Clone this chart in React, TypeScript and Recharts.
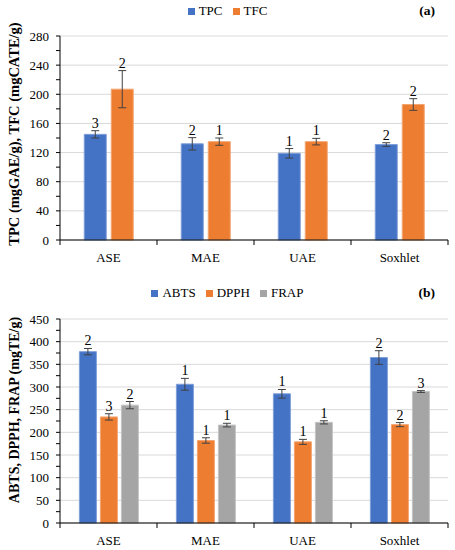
import React from 'react';
import { BarChart, Bar, XAxis, YAxis, CartesianGrid, ErrorBar, Legend, LabelList } from 'recharts';

const FONT = '"Liberation Serif", serif';

const methods = ['ASE', 'MAE', 'UAE', 'Soxhlet'];

// Panel (a)
const tpc = [145, 132, 119, 131];
const tpcErr = [5, 8.5, 6.5, 2.5];
const tpcSig = ['3', '2', '1', '2'];
const tfc = [207, 135, 135, 186];
const tfcErr = [25.5, 5, 4.5, 8];
const tfcSig = ['2', '1', '1', '2'];
const ticksA = [0, 20, 40, 60, 80, 100, 120, 140, 160, 180, 200, 220, 240, 260, 280];
const majorA = [0, 40, 80, 120, 160, 200, 240, 280];

// Panel (b)
const abts = [378, 306, 285, 365];
const abtsErr = [7, 13, 9.5, 15];
const abtsSig = ['2', '1', '1', '2'];
const dpph = [234, 182, 179, 217];
const dpphErr = [7, 6, 5.5, 4.5];
const dpphSig = ['3', '1', '1', '2'];
const frap = [260, 216, 222, 290];
const frapErr = [8, 4, 3.5, 2];
const frapSig = ['2', '1', '1', '3'];
const ticksB = [0, 25, 50, 75, 100, 125, 150, 175, 200, 225, 250, 275, 300, 325, 350, 375, 400, 425, 450];
const majorB = [0, 50, 100, 150, 200, 250, 300, 350, 400, 450];

const BLUE = '#4472C4';
const ORANGE = '#ED7D31';
const GRAY = '#A5A5A5';
const BLUE_EDGE = '#7F9FD8';
const ORANGE_EDGE = '#F3A571';
const GRAY_EDGE = '#C4C4C4';
const ERR = '#404040';

const dataA = methods.map((m, i) => ({
  name: m, tpc: tpc[i], tpcErr: tpcErr[i], tfc: tfc[i], tfcErr: tfcErr[i],
}));
const dataB = methods.map((m, i) => ({
  name: m, abts: abts[i], abtsErr: abtsErr[i], dpph: dpph[i], dpphErr: dpphErr[i], frap: frap[i], frapErr: frapErr[i],
}));

const sigLabel = (values: number[], errs: number[], sigs: string[]) => (props: any) => {
  const vb = props.viewBox || {};
  const x = Number(props.x ?? vb.x);
  const y = Number(props.y ?? vb.y);
  const width = Number(props.width ?? vb.width);
  const height = Number(props.height ?? vb.height);
  const index = props.index;
  if (index == null || isNaN(x)) return null;
  const v = values[index];
  const e = errs[index];
  const top = y - e * (height / v);
  return (
    <text x={x + width / 2} y={top - 3} textAnchor="middle" fontSize={14} fill="#000" stroke="none" fontFamily={FONT}>
      {sigs[index]}
    </text>
  );
};

const CatTick = (props: any) => {
  const { x, y, payload, index } = props;
  const half = payload && payload.offset != null ? payload.offset : 48.5;
  return (
    <g>
      <line x1={x - half} x2={x - half} y1={y} y2={y + 5} stroke="#000" strokeWidth={1} />
      {index === methods.length - 1 && (
        <line x1={x + half} x2={x + half} y1={y} y2={y + 5} stroke="#000" strokeWidth={1} />
      )}
      <text x={x} y={y + 22} textAnchor="middle" fontSize={13} fill="#000" fontFamily={FONT}>
        {payload.value}
      </text>
    </g>
  );
};

const yLabel = (text: string, dy: number, size: number) => (props: any) => {
  const vb = props.viewBox || {};
  const cx = vb.x + 19;
  const cy = vb.y + vb.height / 2 + dy;
  return (
    <text
      x={cx}
      y={cy}
      transform={`rotate(-90 ${cx} ${cy})`}
      textAnchor="middle"
      fontSize={size}
      fontWeight="bold"
      fill="#000"
      fontFamily={FONT}
    >
      {text}
    </text>
  );
};

const makeLegend = (items: { name: string; color: string }[], tag: string) => () => (
  <div style={{ position: 'relative', width: 455, height: 18, fontFamily: FONT, fontSize: 13, color: '#000' }}>
    <div style={{ display: 'flex', justifyContent: 'center', alignItems: 'center', height: 18 }}>
      {items.map((it) => (
        <span key={it.name} style={{ display: 'flex', alignItems: 'center', margin: '0 5px' }}>
          <span style={{ display: 'inline-block', width: 7, height: 7, background: it.color, marginRight: 4 }} />
          <span>{it.name}</span>
        </span>
      ))}
    </div>
    <span style={{ position: 'absolute', right: 20, top: 1, fontWeight: 'bold', fontSize: 13.5 }}>{tag}</span>
  </div>
);

const tickStyle = { fontSize: 13, fill: '#000', fontFamily: FONT };

export default function App() {
  return (
    <div style={{ position: 'absolute', left: 0, top: 0, width: 455, height: 550, background: '#fff' }}>
      <BarChart
        width={455}
        height={268}
        data={dataA}
        margin={{ top: 36, right: 7, left: 0, bottom: 0 }}
        barCategoryGap="25%"
        barGap={5}
      >
        <CartesianGrid vertical={false} horizontalValues={majorA} stroke="#d9d9d9" />
        <XAxis
          dataKey="name"
          height={28}
          tickLine={false}
          tickSize={0}
          tickMargin={0}
          axisLine={{ stroke: '#000' }}
          tick={<CatTick />}
          interval={0}
        />
        <YAxis
          width={60}
          domain={[0, 280]}
          ticks={ticksA}
          interval={0}
          tickFormatter={(v: number) => (v % 40 === 0 ? String(v) : '')}
          tick={tickStyle}
          tickSize={4}
          tickMargin={7}
          tickLine={{ stroke: '#000' }}
          axisLine={{ stroke: '#000' }}
          label={yLabel('TPC (mgGAE/g), TFC (mgCATE/g)', -4, 14.5)}
        />
        <Legend
          verticalAlign="middle"
          layout="horizontal"
          wrapperStyle={{ top: 2, left: 0, width: 455 }}
          content={makeLegend([{ name: 'TPC', color: BLUE }, { name: 'TFC', color: ORANGE }], '(a)')}
        />
        <Bar dataKey="tpc" name="TPC" fill={BLUE} stroke={BLUE_EDGE} strokeWidth={1} isAnimationActive={false}>
          <ErrorBar dataKey="tpcErr" width={4} stroke={ERR} strokeWidth={1} direction="y" isAnimationActive={false} />
          <LabelList dataKey="tpc" content={sigLabel(tpc, tpcErr, tpcSig)} />
        </Bar>
        <Bar dataKey="tfc" name="TFC" fill={ORANGE} stroke={ORANGE_EDGE} strokeWidth={1} isAnimationActive={false}>
          <ErrorBar dataKey="tfcErr" width={4} stroke={ERR} strokeWidth={1} direction="y" isAnimationActive={false} />
          <LabelList dataKey="tfc" content={sigLabel(tfc, tfcErr, tfcSig)} />
        </Bar>
      </BarChart>
      <div style={{ position: 'absolute', left: 0, top: 270 }}>
        <BarChart
          width={455}
          height={280}
          data={dataB}
          margin={{ top: 49, right: 7, left: 0, bottom: 0 }}
          barCategoryGap="20%"
          barGap={4}
        >
          <CartesianGrid vertical={false} horizontalValues={majorB} stroke="#d9d9d9" />
          <XAxis
            dataKey="name"
            height={27}
            tickLine={false}
            tickSize={0}
            tickMargin={0}
            axisLine={{ stroke: '#000' }}
            tick={<CatTick />}
            interval={0}
          />
          <YAxis
            width={60}
            domain={[0, 450]}
            ticks={ticksB}
            interval={0}
            tickFormatter={(v: number) => (v % 50 === 0 ? String(v) : '')}
            tick={tickStyle}
            tickSize={4}
            tickMargin={7}
            tickLine={{ stroke: '#000' }}
            axisLine={{ stroke: '#000' }}
            label={yLabel('ABTS, DPPH, FRAP (mgTE/g)', -11, 14)}
          />
          <Legend
            verticalAlign="middle"
            layout="horizontal"
            wrapperStyle={{ top: 14, left: 0, width: 455 }}
            content={makeLegend(
              [{ name: 'ABTS', color: BLUE }, { name: 'DPPH', color: ORANGE }, { name: 'FRAP', color: GRAY }],
              '(b)'
            )}
          />
          <Bar dataKey="abts" name="ABTS" fill={BLUE} stroke={BLUE_EDGE} strokeWidth={1} isAnimationActive={false}>
            <ErrorBar dataKey="abtsErr" width={4} stroke={ERR} strokeWidth={1} direction="y" isAnimationActive={false} />
            <LabelList dataKey="abts" content={sigLabel(abts, abtsErr, abtsSig)} />
          </Bar>
          <Bar dataKey="dpph" name="DPPH" fill={ORANGE} stroke={ORANGE_EDGE} strokeWidth={1} isAnimationActive={false}>
            <ErrorBar dataKey="dpphErr" width={4} stroke={ERR} strokeWidth={1} direction="y" isAnimationActive={false} />
            <LabelList dataKey="dpph" content={sigLabel(dpph, dpphErr, dpphSig)} />
          </Bar>
          <Bar dataKey="frap" name="FRAP" fill={GRAY} stroke={GRAY_EDGE} strokeWidth={1} isAnimationActive={false}>
            <ErrorBar dataKey="frapErr" width={4} stroke={ERR} strokeWidth={1} direction="y" isAnimationActive={false} />
            <LabelList dataKey="frap" content={sigLabel(frap, frapErr, frapSig)} />
          </Bar>
        </BarChart>
      </div>
    </div>
  );
}
